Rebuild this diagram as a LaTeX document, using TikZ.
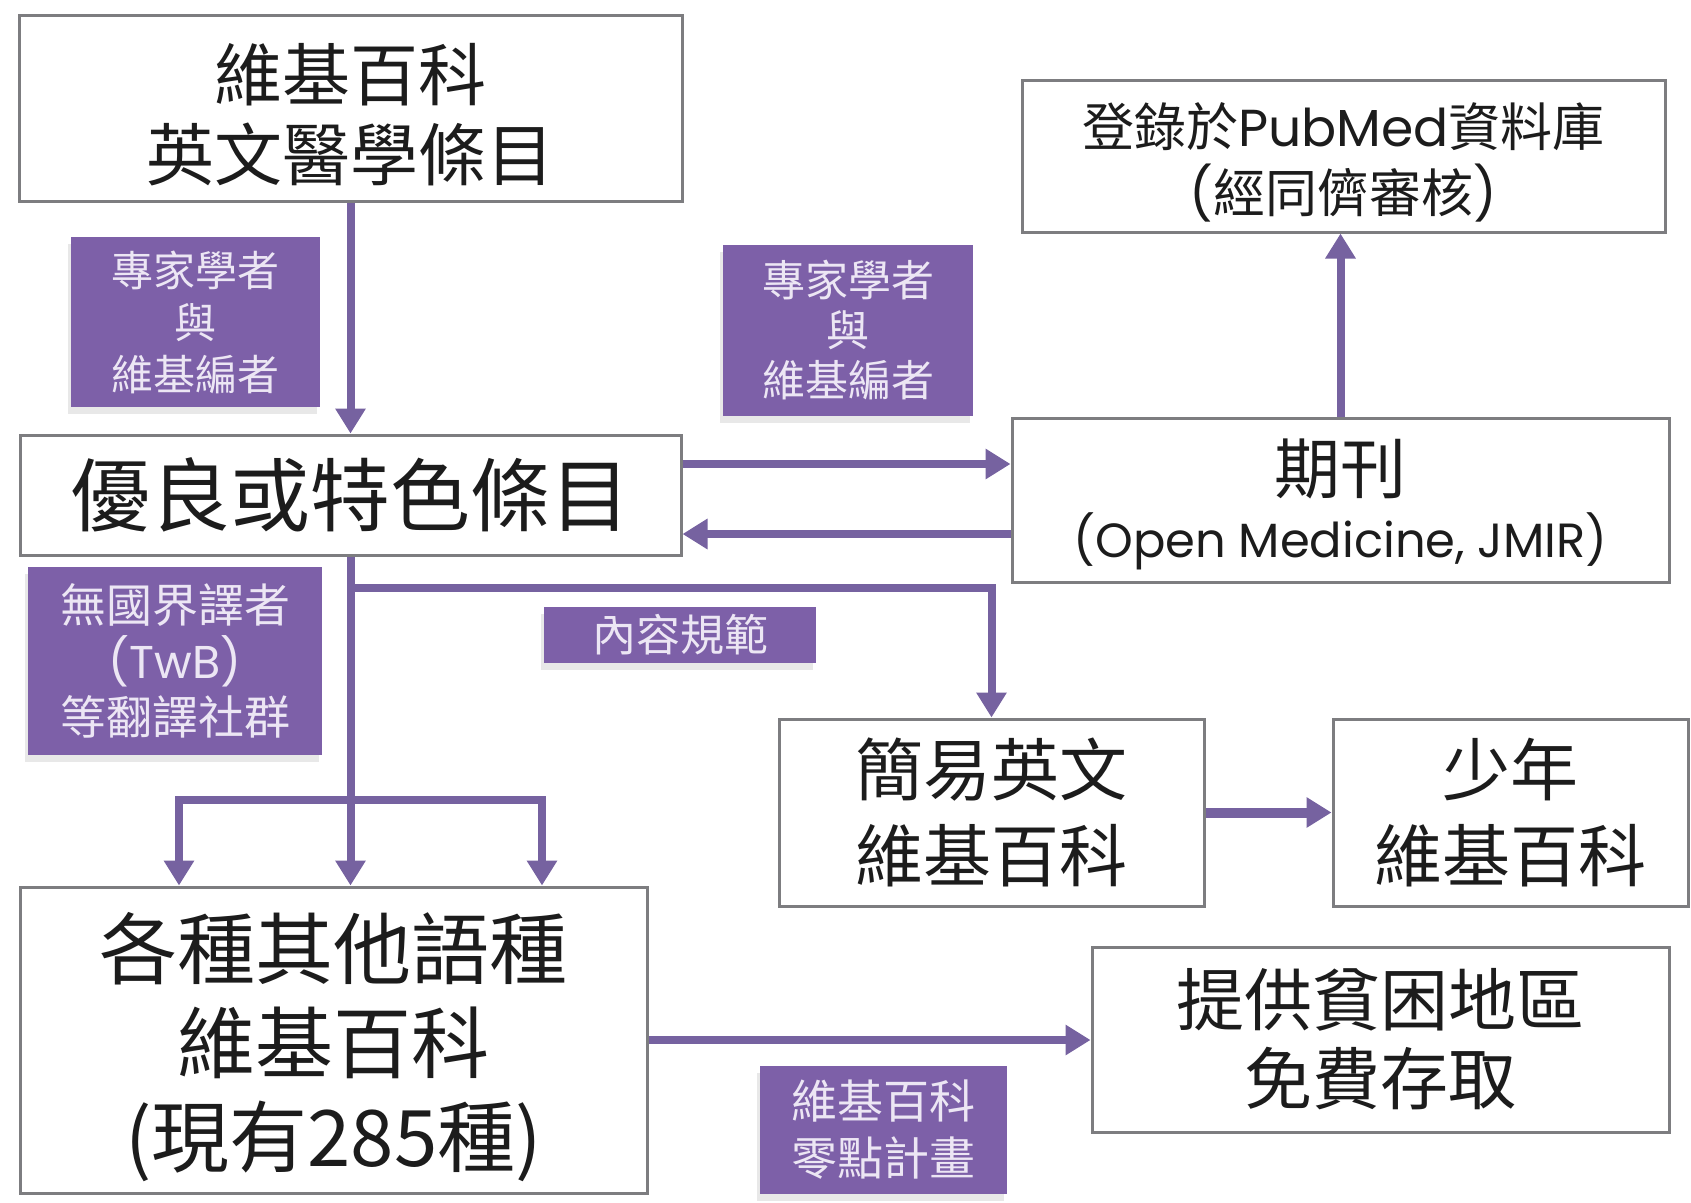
\documentclass[tikz,border=0pt]{standalone}
\usepackage{fontspec}
\setmainfont{Noto Sans CJK TC}
\newfontfamily\lat{Poppins}
\usetikzlibrary{arrows.meta,shadows}
\definecolor{purp}{RGB}{118,98,160}
\definecolor{lblfill}{RGB}{125,96,168}
\definecolor{boxline}{RGB}{125,125,128}
\definecolor{txt}{RGB}{28,28,28}
\definecolor{lbltxt}{RGB}{236,230,244}
\begin{document}
\begin{tikzpicture}[x=1pt,y=-1pt,
  box/.style={draw=boxline, line width=3pt, fill=white, inner sep=0pt, align=center, text=txt},
  lbl/.style={fill=lblfill, inner sep=0pt, align=center, text=lbltxt,
    drop shadow={shadow xshift=-3pt, shadow yshift=-7pt, fill=black!9, opacity=1}},
  arr/.style={draw=purp, line width=8pt, -{Triangle[length=25pt,width=29pt]}},
  dblarr/.style={draw=purp, line width=8pt, {Triangle[length=25pt,width=29pt]}-{Triangle[length=25pt,width=29pt]}}]
\fill[white] (0,0) rectangle (1691,1202);

% boxes
\node[box, minimum width=663pt, minimum height=186pt, font=\fontsize{68}{80}\selectfont] (A) at (350.5,108) {\rule{0pt}{70pt}維基百科\\英文醫學條目};
\node[box, minimum width=661pt, minimum height=120pt, font=\fontsize{80}{90}\selectfont] (B) at (350.5,495) {優良或特色條目};
\node[box, minimum width=643pt, minimum height=152pt, font=\fontsize{52}{66}\selectfont] (C) at (1343.5,156) {\rule{0pt}{56pt}登錄於{\lat PubMed}資料庫\\{\lat (}經同儕審核{\lat )}};
\node[box, minimum width=657pt, minimum height=164pt, font=\fontsize{48}{64}\selectfont] (D) at (1340.5,500) {{\fontsize{66}{66}\selectfont\rule{0pt}{64pt}期刊}\\{\lat (Open Medicine, JMIR)}};
\node[box, minimum width=627pt, minimum height=306pt, font=\fontsize{78}{94}\selectfont] (E) at (333.5,1040) {\rule{0pt}{80pt}各種其他語種\\維基百科\\(現有285種)};
\node[box, minimum width=425pt, minimum height=187pt, font=\fontsize{68}{86}\selectfont] (F) at (991.5,812.5) {簡易英文\\維基百科};
\node[box, minimum width=355pt, minimum height=187pt, font=\fontsize{68}{86}\selectfont] (G) at (1510.5,812.5) {少年\\維基百科};
\node[box, minimum width=577pt, minimum height=185pt, font=\fontsize{68}{79}\selectfont] (H) at (1380.5,1039.5) {提供貧困地區\\免費存取};

% labels
\node[lbl, minimum width=249pt, minimum height=170pt, font=\fontsize{42}{52}\selectfont] (L1) at (195.5,322) {專家學者\\與\\維基編者};
\node[lbl, minimum width=250pt, minimum height=171pt, font=\fontsize{43}{50}\selectfont] (L2) at (848,330.5) {專家學者\\與\\維基編者};
\node[lbl, minimum width=272pt, minimum height=56pt, font=\fontsize{44}{50}\selectfont] (L3) at (680,634.5) {內容規範};
\node[lbl, minimum width=294pt, minimum height=188pt, font=\fontsize{46}{56}\selectfont] (L4) at (175,661) {無國界譯者\\{\lat (TwB)}\\等翻譯社群};
\node[lbl, minimum width=247pt, minimum height=128pt, font=\fontsize{46}{57}\selectfont] (L5) at (883.5,1130) {維基百科\\零點計畫};

% helper coordinates
\coordinate (yBD) at (0,464);
\coordinate (yDB) at (0,534);
\coordinate (yBr) at (0,588);
\coordinate (bl) at (179,800);
\coordinate (br) at (542,800);

% connectors
\draw[arr] (A.south) -- (A.south |- B.north);
\draw[arr] (B.east |- yBD) -- (D.west |- yBD);
\draw[arr] (D.west |- yDB) -- (B.east |- yDB);
\draw[arr] (D.north) -- (D.north |- C.south);
\draw[arr] (B.south) -- (B.south |- E.north);
\draw[arr] (B.south |- yBr) -- (F.north |- yBr) -- (F.north);
\draw[dblarr] (bl |- E.north) -- (bl) -- (br) -- (br |- E.north);
\draw[arr, line width=10pt] (F.east) -- (G.west);
\draw[arr] (E.east) -- (E.east -| H.west);
\end{tikzpicture}
\end{document}
